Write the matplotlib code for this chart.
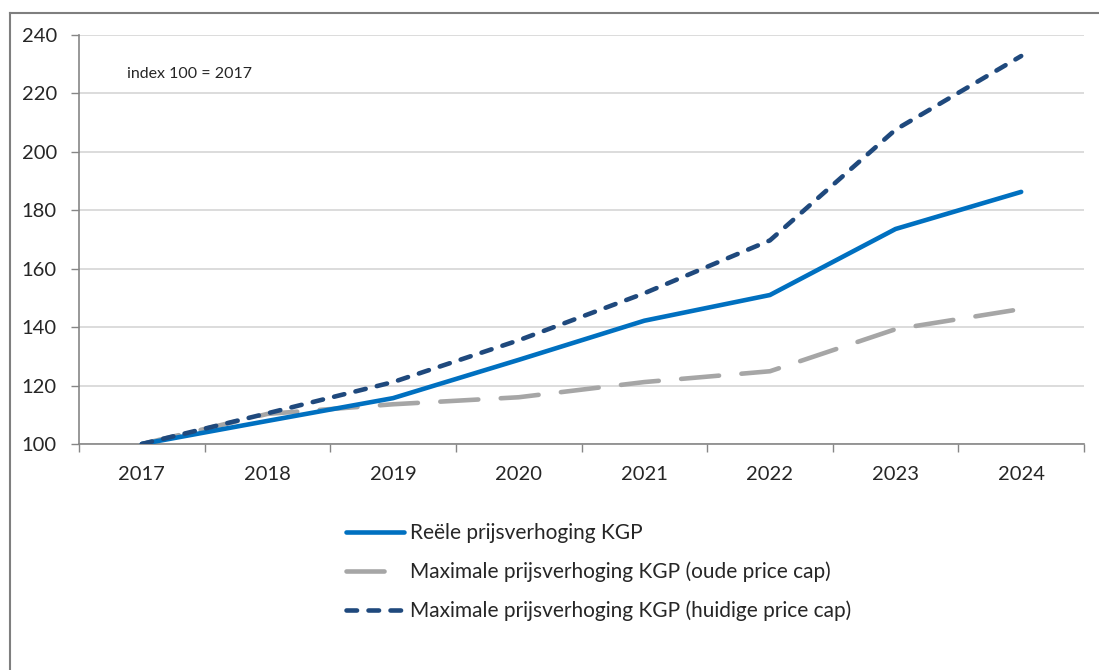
import matplotlib
matplotlib.use("Agg")
import matplotlib.pyplot as plt
from matplotlib.lines import Line2D

plt.rcParams['font.family'] = ['Lato', 'DejaVu Sans']

years = ["2017", "2018", "2019", "2020", "2021", "2022", "2023", "2024"]
reeel = [100, 107.9, 115.7, 128.8, 142.2, 151.0, 173.6, 186.3]
oude_cap = [100, 110.3, 113.6, 116.0, 121.2, 124.9, 139.3, 146.2]
huidige_cap = [100, 110.5, 121.2, 135.5, 151.6, 169.7, 207.6, 232.8]
labels = ["Reële prijsverhoging KGP",
          "Maximale prijsverhoging KGP (oude price cap)",
          "Maximale prijsverhoging KGP (huidige price cap)"]

fig = plt.figure(figsize=(10.99, 6.70), dpi=100)
ax = fig.add_axes([79/1099, 1-444/670, (1084-79)/1099, (444-35)/670])

x = list(range(len(years)))
c_blue = "#0070C0"
c_grey = "#A6A6A6"
c_dark = "#1F497D"
LW = 3.3
grey_dash = (8.3, 4.9)
dark_dash = (2.3, 2.5)

ax.plot(x, oude_cap, color=c_grey, lw=LW, dashes=grey_dash, dash_capstyle='round', zorder=3)
ax.plot(x, reeel, color=c_blue, lw=LW, solid_capstyle='round', zorder=4)
ax.plot(x, huidige_cap, color=c_dark, lw=LW, dashes=dark_dash, dash_capstyle='round', zorder=5)

ax.set_xlim(-0.5, 7.5)
ax.set_ylim(100, 240)
ax.set_yticks(range(100, 241, 20))
ax.grid(axis='y', color='#D9D9D9', lw=1.3)
ax.set_axisbelow(True)

ax.set_xticks([i - 0.5 for i in range(len(years) + 1)])
ax.set_xticklabels([])
ax.set_xticks(x, minor=True)
ax.set_xticklabels(years, minor=True)
ax.tick_params(axis='x', which='major', length=6, width=1, color='#868686', direction='out')
ax.tick_params(axis='x', which='minor', length=0, pad=16, labelsize=14.5, labelcolor='#262626')
ax.tick_params(axis='y', length=6, width=1, color='#868686', labelsize=14.5,
               labelcolor='#262626', pad=10)

for s in ['top', 'right']:
    ax.spines[s].set_visible(False)
for s in ['left', 'bottom']:
    ax.spines[s].set_color('#868686')
    ax.spines[s].set_linewidth(1.2)

ax.text(0.048, 0.905, "index 100 = 2017", transform=ax.transAxes, fontsize=11.5,
        color='#262626', va='center', ha='left')

handles = [Line2D([], [], color=c_blue, lw=LW, solid_capstyle='round'),
           Line2D([], [], color=c_grey, lw=LW, dashes=grey_dash, dash_capstyle='round'),
           Line2D([], [], color=c_dark, lw=LW, dashes=dark_dash, dash_capstyle='round')]
fig.legend(handles, labels, loc='upper left', bbox_to_anchor=(338/1099, 1-515/670),
           frameon=False, fontsize=15, handlelength=2.75, handletextpad=0.3,
           labelspacing=0.88, labelcolor='#262626', borderaxespad=0)

# outer frame
fig.add_artist(Line2D([10/1099, 10/1099], [0, 1-13/670], color='#7F7F7F', lw=1.5,
                      transform=fig.transFigure))
fig.add_artist(Line2D([10/1099, 1], [1-13/670, 1-13/670], color='#7F7F7F', lw=1.5,
                      transform=fig.transFigure))

fig.savefig("out.png", dpi=100)
